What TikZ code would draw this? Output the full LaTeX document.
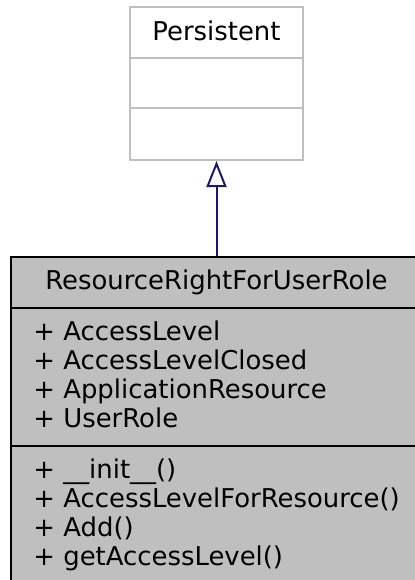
\documentclass[tikz,border=0pt]{standalone}
\usepackage{fontspec}
\setmainfont{DejaVu Sans}
\usetikzlibrary{arrows.meta}
\definecolor{boxgray}{HTML}{BFBFBF}
\definecolor{edgeblue}{HTML}{191970}
\tikzset{
  classtxt/.style={inner sep=0pt, font=\fontsize{12.95}{14.5}\selectfont},
  persbox/.style={draw=boxgray, fill=white, line width=1pt, inner sep=0pt},
  clsbox/.style={draw=black, fill=boxgray, line width=1pt, inner sep=0pt},
  inherit/.style={draw=edgeblue, line width=1pt, -{Triangle[open, length=13pt, width=10pt]}}
}
\begin{document}
\begin{tikzpicture}[x=0.5pt,y=-0.5pt]
\useasboundingbox (0,0) rectangle (414,580);
% Persistent
\node[persbox, minimum width=86.5pt, minimum height=76.5pt] (pers) at (216.5,83.5) {};
\draw[boxgray, line width=1pt] (pers.west |- 0,58) -- (pers.east |- 0,58);
\draw[boxgray, line width=1pt] (pers.west |- 0,108) -- (pers.east |- 0,108);
\node[classtxt, anchor=base] (ptitle) at (216.5,40) {Persistent};
% ResourceRightForUserRole
\node[clsbox, minimum width=205.5pt, minimum height=163pt] (cls) at (216.5,420) {};
\draw[black, line width=1pt] (cls.west |- 0,308) -- (cls.east |- 0,308);
\draw[black, line width=1pt] (cls.west |- 0,446) -- (cls.east |- 0,446);
\node[classtxt, anchor=base] (ctitle) at (216.5,289) {ResourceRightForUserRole};
\node[classtxt, anchor=base west] (a1) at (33,340) {+ AccessLevel};
\node[classtxt, anchor=base west] (a2) at (33,369) {+ AccessLevelClosed};
\node[classtxt, anchor=base west] (a3) at (33,398) {+ ApplicationResource};
\node[classtxt, anchor=base west] (a4) at (33,427) {+ UserRole};
\node[classtxt, anchor=base west] (m1) at (33,478) {+ \_\_init\_\_()};
\node[classtxt, anchor=base west] (m2) at (33,507) {+ AccessLevelForResource()};
\node[classtxt, anchor=base west] (m3) at (33,536) {+ Add()};
\node[classtxt, anchor=base west] (m4) at (33,565) {+ getAccessLevel()};
% inheritance
\draw[inherit] (cls.north) -- (pers.south);
\end{tikzpicture}
\end{document}
